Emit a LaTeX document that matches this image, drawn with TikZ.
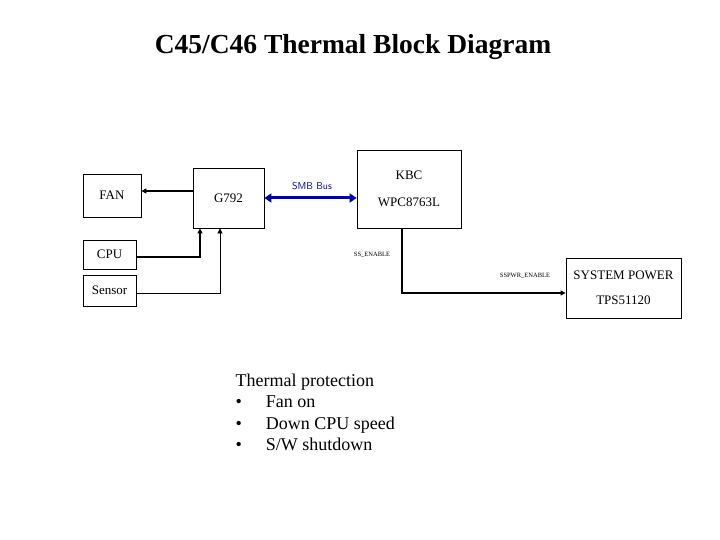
\documentclass[tikz,border=0pt]{standalone}
\usepackage{fontspec}
\setmainfont{Liberation Serif}
\usetikzlibrary{arrows.meta}
\begin{document}
\begin{tikzpicture}[x=1pt,y=-1pt,
 box/.style={draw,thick,inner sep=0pt,font=\fontsize{13}{15}\selectfont},
 sig/.style={line width=1.2pt,-{Triangle[length=5pt,width=5pt]}},
 small/.style={font=\fontsize{6.5}{7}\selectfont}]
\useasboundingbox (0,0) rectangle (720,540);
\node[font=\bfseries\fontsize{27.5}{32}\selectfont] (title) at (353,47) {C45/C46 Thermal Block Diagram};
\node[box,minimum width=58pt,minimum height=43pt] (fan) at (112,195.5) {FAN};
\node[box,minimum width=71pt,minimum height=60pt] (g) at (228.5,198) {G792};
\node[box,minimum width=104pt,minimum height=78pt,align=center] (kbc) at (409,189) {KBC\\[12pt]WPC8763L};
\node[box,minimum width=53pt,minimum height=29pt] (cpu) at (109.5,254.5) {CPU};
\node[box,minimum width=53pt,minimum height=31pt] (sen) at (109.5,290.5) {Sensor};
\node[box,minimum width=115pt,minimum height=60pt,align=center] (sp) at (623.5,288) {SYSTEM POWER\\[10pt]TPS51120};
\draw[sig] (g.west|-0,191) -- (fan.east|-0,191);
\draw[line width=3pt,blue!70!black,{Triangle[length=7pt,width=9pt]}-{Triangle[length=7pt,width=9pt]}] (g.east) -- (kbc.west|-g.east);
\node[font=\sffamily\fontsize{10}{12}\selectfont,text=blue!60!black] (smb) at (312,186) {SMB Bus};
\coordinate (c1) at (200,257);
\coordinate (s1) at (220,293);
\draw[sig] (cpu.east|-c1) -- (c1) -- (c1|-g.south);
\draw[sig,line width=0.7pt] (sen.east|-s1) -- (s1) -- (s1|-g.south);
\coordinate (k1) at (402,293);
\draw[sig] (k1|-kbc.south) -- (k1) -- (sp.west|-k1);
\node[small] (ss) at (372,255) {SS\_ENABLE};
\node[small] (sspwr) at (525,276) {SSPWR\_ENABLE};
\node[font=\fontsize{18}{21.5}\selectfont,anchor=north west,align=left] (tp) at (232,370)
 {Thermal protection\\
  \textbullet\hspace{24pt}Fan on\\
  \textbullet\hspace{24pt}Down CPU speed\\
  \textbullet\hspace{24pt}S/W shutdown};
\end{tikzpicture}
\end{document}
